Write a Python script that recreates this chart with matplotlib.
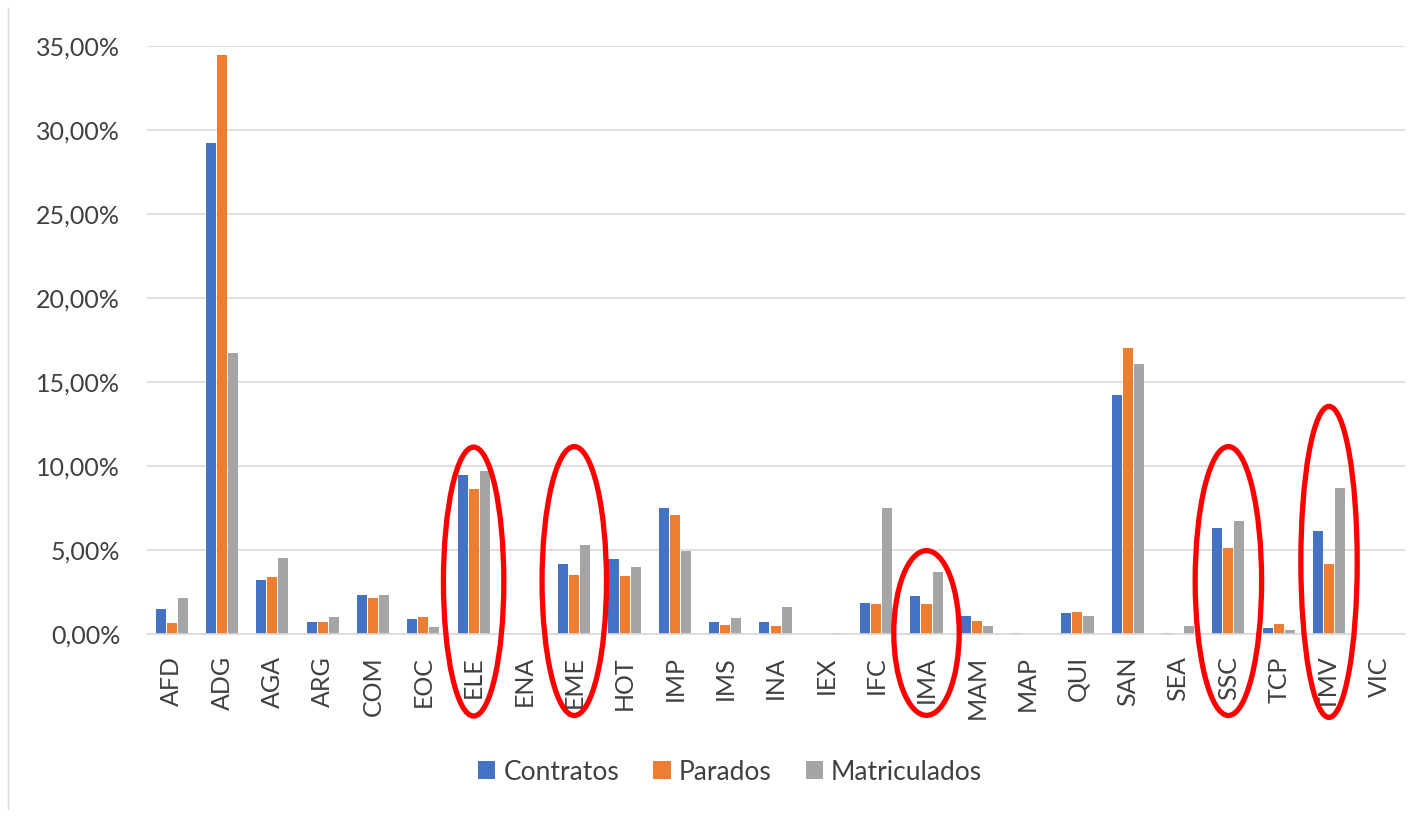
import numpy as np
import matplotlib.pyplot as plt
from matplotlib.patches import Ellipse
from matplotlib.ticker import FuncFormatter, MultipleLocator

plt.rcParams['font.family'] = ['Lato', 'DejaVu Sans']

familias = ['AFD', 'ADG', 'AGA', 'ARG', 'COM', 'EOC', 'ELE', 'ENA', 'EME', 'HOT',
            'IMP', 'IMS', 'INA', 'IEX', 'IFC', 'IMA', 'MAM', 'MAP', 'QUI', 'SAN',
            'SEA', 'SSC', 'TCP', 'TMV', 'VIC']
contratos = [1.49, 29.2, 3.23, 0.73, 2.30, 0.89, 9.45, 0.0, 4.18, 4.48,
             7.51, 0.70, 0.74, 0.0, 1.87, 2.29, 1.10, 0.07, 1.25, 14.23,
             0.08, 6.31, 0.36, 6.10, 0.0]
parados = [0.63, 34.46, 3.39, 0.73, 2.16, 0.99, 8.6, 0.0, 3.49, 3.43,
           7.07, 0.56, 0.46, 0.0, 1.77, 1.77, 0.80, 0.0, 1.33, 17.0,
           0.0, 5.10, 0.62, 4.18, 0.0]
matriculados = [2.16, 16.73, 4.54, 1.01, 2.30, 0.42, 9.72, 0.0, 5.32, 4.00,
                4.92, 0.94, 1.63, 0.06, 7.51, 3.69, 0.46, 0.0, 1.06, 16.07,
                0.48, 6.71, 0.22, 8.67, 0.0]
series = ['Contratos', 'Parados', 'Matriculados']
colores = ['#4472C4', '#ED7D31', '#A5A5A5']

# elipses rojas dibujadas encima (indice categoria, centro y, ancho, alto)
marcas = [(6, 3.12, 1.2, 16.0), (8, 3.15, 1.28, 16.0), (15, 0.06, 1.3, 9.8),
          (21, 3.15, 1.32, 16.0), (23, 4.29, 1.12, 18.5)]

fig = plt.figure(figsize=(14.23, 8.17), dpi=100)
ax = fig.add_axes([0.103, 0.224, 0.884, 0.72])

x = np.arange(len(familias))
w = 0.2
for i, (vals, nom, col) in enumerate(zip([contratos, parados, matriculados], series, colores)):
    ax.bar(x + (i - 1) * 0.22, vals, w, color=col, label=nom, zorder=2)

ax.set_xlim(-0.5, len(familias) - 0.5)
ax.set_ylim(0, 35)
ax.yaxis.set_major_locator(MultipleLocator(5))
ax.yaxis.set_major_formatter(FuncFormatter(lambda v, p: ('%.2f' % v).replace('.', ',') + '%'))
ax.grid(axis='y', color='#D9D9D9', linewidth=1.2, zorder=0)
ax.set_axisbelow(True)
for s in ['top', 'right', 'left']:
    ax.spines[s].set_visible(False)
ax.spines['bottom'].set_color('#D9D9D9')
ax.spines['bottom'].set_linewidth(1.2)

ax.set_xticks(x)
ax.set_xticklabels(familias, rotation=90, va='top', ha='center')
ax.tick_params(axis='x', length=0, pad=16, labelsize=18, labelcolor='#404040')
ax.tick_params(axis='y', length=0, pad=19, labelsize=18, labelcolor='#404040')

for idx, cy, ew, eh in marcas:
    e = Ellipse((idx, cy), ew, eh, fill=False, edgecolor='#FF0000', linewidth=3.8,
                zorder=5, clip_on=False)
    ax.add_patch(e)

fig.legend(loc='center', bbox_to_anchor=(730 / 1423, 1 - 772 / 817), ncol=3,
           frameon=False, fontsize=19, handlelength=0.65, handleheight=0.65,
           handletextpad=0.3, columnspacing=1.3, labelcolor='#404040')

# borde fino a la izquierda de la imagen
fig.add_artist(plt.Line2D([8 / 1423, 8 / 1423], [0.01, 0.99], color='#D9D9D9', linewidth=1))

fig.savefig('out.png', dpi=100)
